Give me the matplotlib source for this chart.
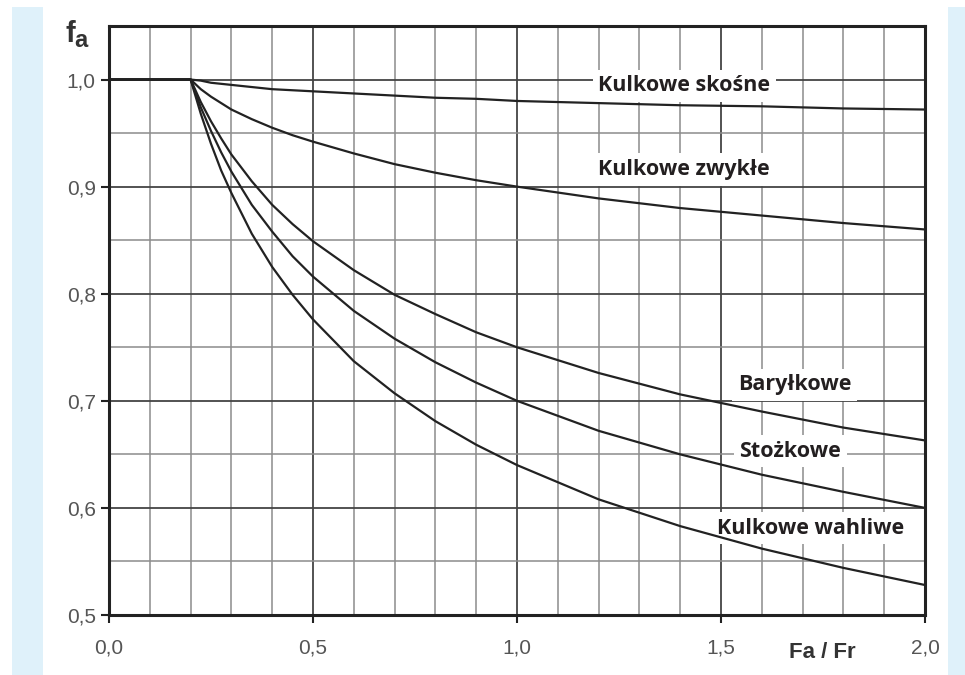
import matplotlib
matplotlib.use('Agg')
import matplotlib.pyplot as plt
from matplotlib.patches import Rectangle
import numpy as np

# Fa/Fr values where the curves were read
x = [0.0, 0.2, 0.225, 0.25, 0.275, 0.3, 0.35, 0.4, 0.45, 0.5, 0.6, 0.7, 0.8, 0.9, 1.0, 1.2, 1.4, 1.6, 1.8, 2.0]

# fa for each bearing type
skosne = [1.0, 1.0, 0.999, 0.997, 0.996, 0.995, 0.993, 0.991, 0.990, 0.989, 0.987, 0.985, 0.983, 0.982, 0.980, 0.978, 0.976, 0.975, 0.973, 0.972]
zwykle = [1.0, 1.0, 0.991, 0.984, 0.978, 0.972, 0.963, 0.955, 0.948, 0.942, 0.931, 0.921, 0.913, 0.906, 0.900, 0.889, 0.880, 0.873, 0.866, 0.860]
barylkowe = [1.0, 1.0, 0.979, 0.961, 0.945, 0.930, 0.905, 0.883, 0.865, 0.849, 0.822, 0.799, 0.781, 0.764, 0.750, 0.726, 0.706, 0.690, 0.675, 0.663]
stozkowe = [1.0, 1.0, 0.974, 0.952, 0.932, 0.914, 0.883, 0.858, 0.835, 0.816, 0.784, 0.758, 0.736, 0.717, 0.700, 0.672, 0.650, 0.631, 0.615, 0.600]
wahliwe = [1.0, 1.0, 0.968, 0.940, 0.915, 0.894, 0.856, 0.825, 0.799, 0.776, 0.737, 0.707, 0.681, 0.659, 0.640, 0.608, 0.583, 0.562, 0.544, 0.528]

names = ['Kulkowe skośne', 'Kulkowe zwykłe', 'Baryłkowe', 'Stożkowe', 'Kulkowe wahliwe']
label_pos = [(1.41, 0.994), (1.41, 0.916), (1.68, 0.715), (1.67, 0.653), (1.72, 0.581)]

xticks = [0.0, 0.5, 1.0, 1.5, 2.0]
yticks = [0.5, 0.6, 0.7, 0.8, 0.9, 1.0]

fig = plt.figure(figsize=(9.65, 6.75), dpi=100)
fig.patch.set_facecolor('white')

# light blue side strips of the page
fig.patches.append(Rectangle((12/965, 0), 31/965, 668/675, transform=fig.transFigure,
                             facecolor='#dff1fa', edgecolor='none', zorder=0))
fig.patches.append(Rectangle((948/965, 0), 17/965, 668/675, transform=fig.transFigure,
                             facecolor='#dff1fa', edgecolor='none', zorder=0))

ax = fig.add_axes([109/965, 60/675, 816/965, 589/675])
ax.set_xlim(0, 2.0)
ax.set_ylim(0.5, 1.05)

# grid
for gx in np.arange(0.1, 2.0, 0.1):
    major = abs(gx * 2 - round(gx * 2)) < 1e-6
    ax.axvline(gx, color='#444444' if major else '#8c8c8c', lw=1.3 if major else 1.1, zorder=0)
for gy in np.arange(0.55, 1.05, 0.05):
    major = abs(gy * 10 - round(gy * 10)) < 1e-6
    ax.axhline(gy, color='#444444' if major else '#8c8c8c', lw=1.3 if major else 1.1, zorder=0)

for ys in [skosne, zwykle, barylkowe, stozkowe, wahliwe]:
    ax.plot(x, ys, color='#222222', lw=1.6, zorder=4)

for name, (lx, ly) in zip(names, label_pos):
    ax.text(lx, ly, name, ha='center', va='center', fontsize=15.5, fontweight='bold',
            family='Open Sans', color='#231f20', zorder=3,
            bbox=dict(facecolor='white', edgecolor='none', pad=4))

for s in ax.spines.values():
    s.set_linewidth(2.2)
    s.set_color('#222222')

ax.set_xticks(xticks)
ax.set_xticklabels([f'{v:.1f}'.replace('.', ',') for v in xticks])
ax.set_yticks(yticks)
ax.set_yticklabels([f'{v:.1f}'.replace('.', ',') for v in yticks])
ax.tick_params(axis='both', direction='out', length=6, width=1.5, color='#222222',
               labelsize=15, labelcolor='#555555')
ax.tick_params(axis='x', pad=11)
for lab in ax.get_xticklabels() + ax.get_yticklabels():
    lab.set_family('Liberation Sans')

fig.text(822/965, 1 - 653/675, 'Fa / Fr', ha='center', va='center', fontsize=16,
         fontweight='bold', family='Liberation Sans', color='#333333')
fig.text(66/965, 1 - 42/675, 'f', ha='left', va='baseline', fontsize=21,
         fontweight='bold', family='Liberation Sans', color='#333333')
fig.text(74/965, 1 - 47/675, 'a', ha='left', va='baseline', fontsize=17,
         fontweight='bold', family='Liberation Sans', color='#333333')

fig.savefig('out.png', dpi=100)
